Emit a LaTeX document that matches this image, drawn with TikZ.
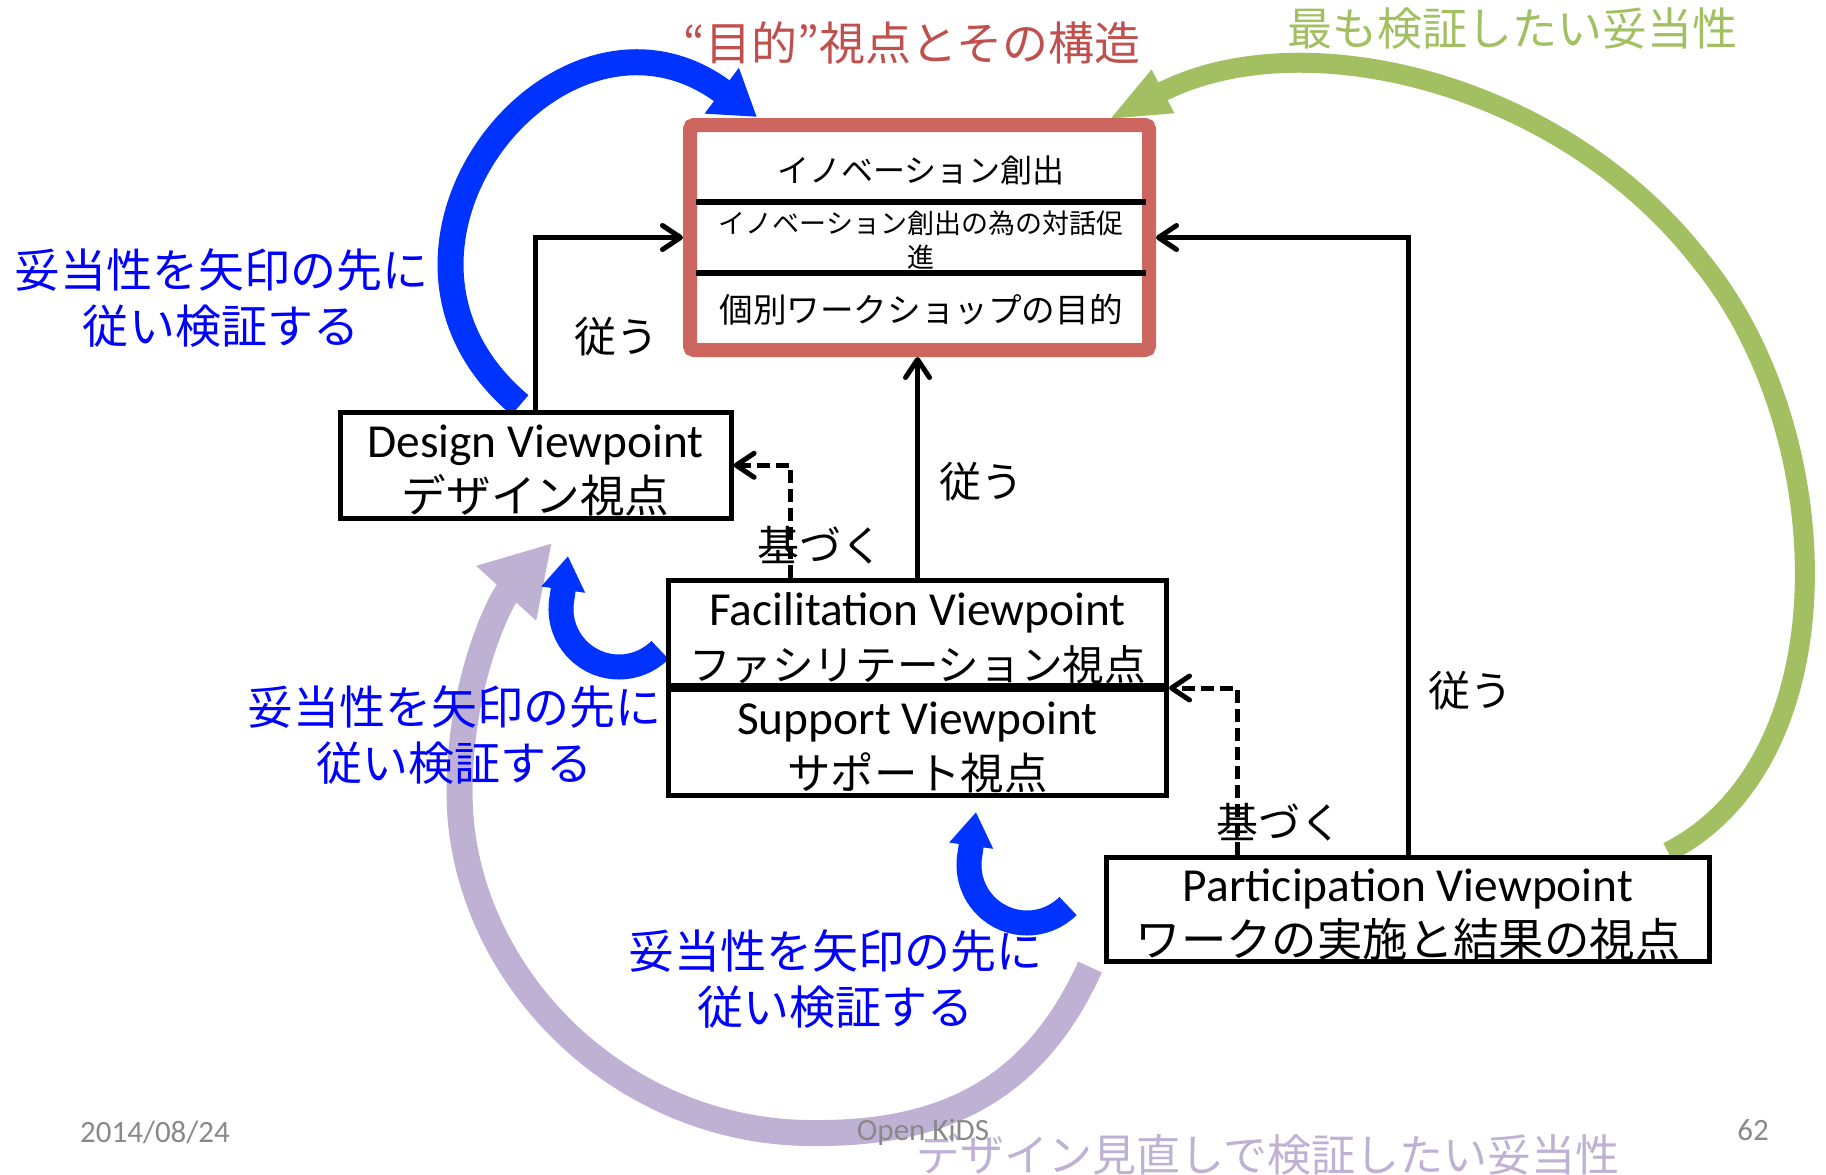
\documentclass[tikz,border=0pt]{standalone}
\usepackage{fontspec}
\setmainfont{Carlito}
\newfontfamily\jp{Noto Sans CJK JP}
\usetikzlibrary{arrows.meta}

\definecolor{boxred}{RGB}{205,102,95}
\definecolor{titlered}{RGB}{192,80,77}
\definecolor{olive}{RGB}{162,192,98}
\definecolor{lilac}{RGB}{191,177,211}
\definecolor{arcblue}{RGB}{0,51,255}
\definecolor{noteblue}{RGB}{0,0,255}
\definecolor{foot}{RGB}{137,137,137}

\tikzset{
  vbox/.style={draw,fill=white,line width=2.5pt,align=center,inner sep=0pt,
    font=\fontsize{23.7}{27.5}\selectfont},
  link/.style={line width=2.5pt,-{Straight Barb[length=9pt,width=12pt,round]}},
  based/.style={link,dash pattern=on 6.5pt off 3pt},
  lbl/.style={font=\jp\fontsize{21}{23}\selectfont},
  hint/.style={text=noteblue,align=center,font=\jp\fontsize{23}{28}\selectfont},
  backarc/.style={draw=arcblue,line width=12.5pt,-{Triangle[length=17pt,width=21pt]}},
}
% English line over Japanese line
\newcommand\vp[3][22.5]{\rule{0pt}{21.5pt}#2\\{\jp\fontsize{#1}{27.5}\selectfont #3}}

\begin{document}
\begin{tikzpicture}[x=0.5pt,y=-0.5pt]
 \useasboundingbox (0,0) rectangle (1826,1174);
 % validation arcs
 \draw[lilac,line width=13pt,-{Triangle[length=34pt,width=38pt]}]
   (1090,967) .. controls (1030,1100) and (930,1135) .. (807,1133)
   .. controls (620,1130) and (470,980) .. (460,810)
   .. controls (455,690) and (500,600) .. (552,543);
 \draw[olive,line width=10pt,-{Triangle[length=31pt,width=22pt]}]
   (1668,852) .. controls (1850,760) and (1840,430) .. (1700,260)
   .. controls (1560,80) and (1300,20) .. (1108,120);
 \draw[arcblue,line width=13pt,-{Triangle[length=22pt,width=27pt]}]
   (520,405) .. controls (335,250) and (560,-30) .. (757,117);
 \foreach \dx/\dy in {0/0,408/256}
   {\draw[backarc,shift={(\dx,\dy)}] (660,650) arc[start angle=-45,end angle=-190,radius=29pt] -- (568,556);}

 % purpose box
 \node[draw=boxred,fill=white,line width=7pt,rounded corners=2pt,
   minimum width=229.5pt,minimum height=112.5pt] (purp) at (919.5,237.5) {};
 \draw[line width=3pt] (696,202) -- (1146,202) (696,273) -- (1146,273);
 \node[font=\jp\fontsize{16}{18}\selectfont] (r1) at (921,170) {イノベーション創出};
 \node[font=\jp\fontsize{13.5}{17}\selectfont,align=center] (r2) at (921,240) {イノベーション創出の為の対話促\\進};
 \node[font=\jp\fontsize{16.8}{18}\selectfont] (r3) at (921,310) {個別ワークショップの目的};

 % viewpoints
 \node[vbox,minimum width=195.5pt,minimum height=52.75pt] (dv) at (535.6,465.3)
   {\vp[22.3]{Design Viewpoint}{デザイン視点}};
 \node[vbox,minimum width=249pt,minimum height=52.5pt] (fac) at (917.5,633)
   {\vp[20.8]{Facilitation Viewpoint}{ファシリテーション視点}};
 \node[vbox,minimum width=249pt,minimum height=53pt] (sup) at (917.5,742.5)
   {\vp[21.7]{Support Viewpoint}{サポート視点}};
 \node[vbox,minimum width=301.5pt,minimum height=52.25pt] (part) at (1408,909.5)
   {\vp[22.7]{Participation Viewpoint}{ワークの実施と結果の視点}};

 % relations
 \draw[link] (dv.north) |- (purp.west);
 \draw[link] (fac.north) -- (fac.north |- purp.south);
 \draw[link] (part.north) |- (purp.east);
 \draw[based] ([xshift=62pt]fac.north west) |- (dv.east);
 \draw[based] ([xshift=66.5pt]part.north west) |- (fac.south east);
 \node[lbl] (f1) at (616,337) {従う};
 \node[lbl] (f2) at (981,482) {従う};
 \node[lbl] (f3) at (1470,691) {従う};
 \node[lbl] (b1) at (820,545) {基づく};
 \node[lbl] (b2) at (1279,822) {基づく};

 % notes and titles
 \node[hint] (n1) at (221,298) {妥当性を矢印の先に\\従い検証する};
 \node[hint] (n2) at (454,735) {妥当性を矢印の先に\\従い検証する};
 \node[hint] (n3) at (835,979) {妥当性を矢印の先に\\従い検証する};
 \node[text=titlered,font=\jp\fontsize{23}{26}\selectfont] (ttl) at (912,43) {“目的”視点とその構造};
 \node[text=olive,font=\jp\fontsize{22.5}{26}\selectfont] (best) at (1512,29) {最も検証したい妥当性};
 \node[text=lilac,font=\jp\fontsize{22}{26}\selectfont] (redo) at (1268,1155) {デザイン見直しで検証したい妥当性};

 % footer
 \node[text=foot,font=\fontsize{15.5}{18}\selectfont] (date) at (155,1132) {2014/08/24};
 \node[text=foot,font=\fontsize{15.5}{18}\selectfont] (org) at (923,1132) {Open KiDS};
 \node[text=foot,font=\fontsize{15.5}{18}\selectfont] (pg) at (1753,1130) {62};
\end{tikzpicture}
\end{document}
